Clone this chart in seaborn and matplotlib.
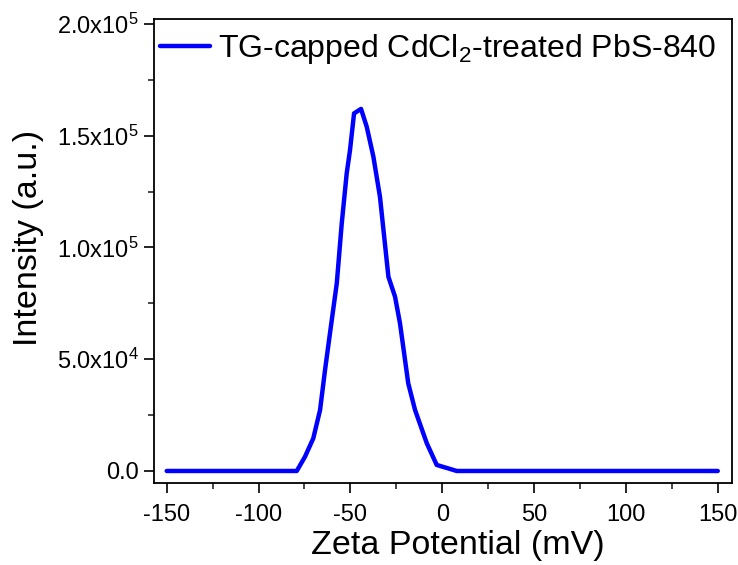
import numpy as np
import pandas as pd
import matplotlib
matplotlib.use("Agg")
import matplotlib.pyplot as plt
import seaborn as sns
from matplotlib.ticker import FuncFormatter, MultipleLocator

# Data
zeta_mv = [-150, -79.2, -74.7, -70.2, -66.5, -63.8, -61.1, -57.4, -54.7, -52.0, -50.2,
           -48.0, -44.2, -41.1, -37.5, -33.9, -29.3, -25.7, -23.0, -18.5, -14.8,
           -8.4, -3.0, 7.9, 150]
intensity = [0, 0, 6400, 14600, 27300, 45200, 61700, 84000, 110800, 133200, 143600,
             160000, 162000, 154000, 140700, 122700, 86900, 78000, 66100, 39200, 27300,
             12400, 2700, 0, 0]
series_label = "TG-capped CdCl$_2$-treated PbS-840"
x_ticks = [-150, -100, -50, 0, 50, 100, 150]
y_ticks = [0, 50000, 100000, 150000, 200000]

sns.set_style("ticks")
plt.rcParams['font.family'] = ['Liberation Sans', 'DejaVu Sans']
plt.rcParams['mathtext.fontset'] = 'custom'
plt.rcParams['mathtext.rm'] = 'Liberation Sans'
plt.rcParams['mathtext.it'] = 'Liberation Sans:italic'
plt.rcParams['mathtext.bf'] = 'Liberation Sans:bold'
plt.rcParams['text.color'] = 'black'
plt.rcParams['axes.labelcolor'] = 'black'

df = pd.DataFrame({"Zeta": zeta_mv, "Intensity": intensity})

fig = plt.figure(figsize=(7.38, 5.65), dpi=100)
ax = fig.add_axes([0.2087, 0.1457, 0.9915 - 0.2087, 0.9664 - 0.1457])
sns.lineplot(data=df, x="Zeta", y="Intensity", ax=ax, color=(0, 0, 1),
             linewidth=3.2, label=series_label, sort=False)

ax.set_xlim(-156.9, 157.6)
ax.set_ylim(-5235, 202237)
ax.set_xticks(x_ticks)
ax.set_yticks(y_ticks)
ax.xaxis.set_minor_locator(MultipleLocator(25))
ax.yaxis.set_minor_locator(MultipleLocator(25000))

def yfmt(v, pos):
    if v == 0:
        return "0.0"
    exp = int(np.floor(np.log10(abs(v))))
    mant = v / 10 ** exp
    return f"{mant:.1f}x10$^{{{exp}}}$"

ax.yaxis.set_major_formatter(FuncFormatter(yfmt))
ax.xaxis.set_major_formatter(FuncFormatter(lambda v, p: f"{int(v)}"))

ax.tick_params(axis='x', which='major', pad=8)
ax.tick_params(axis='y', which='major', pad=4)
ax.tick_params(axis='both', which='major', direction='out', length=7, width=1.2,
               labelsize=17, colors='black', top=False, right=False)
ax.tick_params(axis='both', which='minor', direction='out', length=4, width=1.2,
               top=False, right=False)
for s in ax.spines.values():
    s.set_visible(True)
    s.set_linewidth(1.3)
    s.set_color('black')

ax.set_xlabel("Zeta Potential (mV)", fontsize=24.5)
ax.set_ylabel("Intensity (a.u.)", fontsize=24.5)
ax.xaxis.set_label_coords(0.525, -0.102)
ax.yaxis.set_label_coords(-0.191, 0.528)

leg = ax.legend(loc='upper left', bbox_to_anchor=(0.010, 0.971), frameon=False,
                fontsize=23, handlelength=1.57, handletextpad=0.24,
                borderaxespad=0.0, borderpad=0.0)

fig.savefig("out.png", dpi=100)
